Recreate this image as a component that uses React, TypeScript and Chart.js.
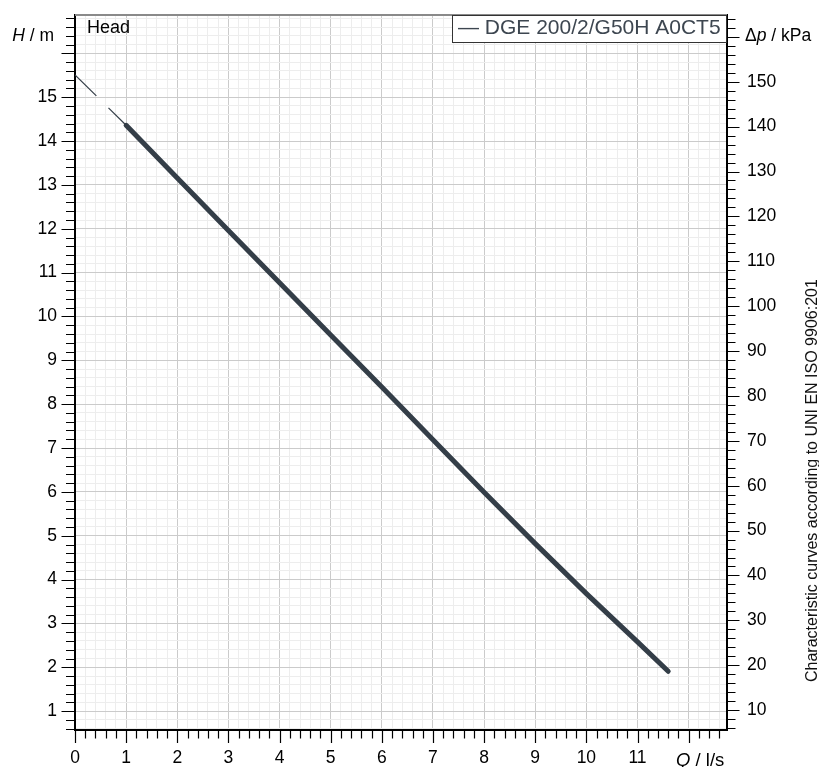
import React, { useEffect, useRef } from "react";
import { Chart, registerables } from "chart.js";

Chart.register(...registerables);

// ---- data ----
const Q_FLOW = [1, 2, 3, 4, 5, 6, 7, 8, 9, 10, 11, 11.6];
const H_HEAD = [14.36, 13.16, 11.96, 10.77, 9.58, 8.39, 7.19, 5.99, 4.82, 3.68, 2.58, 1.91];
const Q_EXT = [0, 1];
const H_EXT = [15.51, 14.36];
const X_TICK_LABELS = [0, 1, 2, 3, 4, 5, 6, 7, 8, 9, 10, 11];
const H_TICK_LABELS = [1, 2, 3, 4, 5, 6, 7, 8, 9, 10, 11, 12, 13, 14, 15];
const P_TICK_LABELS = [10, 20, 30, 40, 50, 60, 70, 80, 90, 100, 110, 120, 130, 140, 150];
const SERIES_LABEL = "DGE 200/2/G50H A0CT5";
const SERIES_TITLE = "Head";
const SIDE_NOTE = "Characteristic curves according to UNI EN ISO 9906:201";

const X_MIN = 0;
const X_MAX = 12.75;
const H_MIN = 0.57;
const H_MAX = 16.875;
const KPA_PER_M = 9.77;

const FONT = "'Liberation Sans', Arial, sans-serif";
const LINE_COLOR = "#343e48";

const near = (v: number, arr: number[]) => arr.some((a) => Math.abs(a - v) < 1e-6);
const isInt = (v: number) => Math.abs(v - Math.round(v)) < 1e-6;

const decorPlugin = {
  id: "decor",
  afterDraw(chart: any) {
    const { ctx, chartArea } = chart;
    const sx = chart.scales.x;
    const sy = chart.scales.y;
    const sp = chart.scales.y2;
    ctx.save();
    // tick marks
    ctx.strokeStyle = "#000";
    ctx.lineWidth = 1.2;
    ctx.beginPath();
    sx.ticks.forEach((t: any) => {
      const px = Math.round(sx.getPixelForValue(t.value)) + 0.5;
      const len = isInt(t.value) ? 13 : 8.5;
      ctx.moveTo(px, chartArea.bottom);
      ctx.lineTo(px, chartArea.bottom + len);
    });
    sy.ticks.forEach((t: any) => {
      const py = Math.round(sy.getPixelForValue(t.value)) + 0.5;
      const len = isInt(t.value) ? 13.5 : 9;
      ctx.moveTo(chartArea.left, py);
      ctx.lineTo(chartArea.left - len, py);
    });
    sp.ticks.forEach((t: any) => {
      const py = Math.round(sp.getPixelForValue(t.value)) + 0.5;
      const len = isInt(t.value / 10) ? 12.5 : 8.5;
      ctx.moveTo(chartArea.right, py);
      ctx.lineTo(chartArea.right + len, py);
    });
    ctx.stroke();

    // top border
    ctx.strokeStyle = "#8a8a8a";
    ctx.lineWidth = 2;
    ctx.beginPath();
    ctx.moveTo(chartArea.left, chartArea.top);
    ctx.lineTo(chartArea.right, chartArea.top);
    ctx.stroke();

    // legend box
    const bw = 275;
    const bh = 28;
    const bx = chartArea.right - bw;
    const by = chartArea.top;
    ctx.fillStyle = "#fff";
    ctx.fillRect(bx, by, bw, bh);
    ctx.strokeStyle = "#333";
    ctx.lineWidth = 1;
    ctx.strokeRect(bx + 0.5, by + 0.5, bw - 1, bh - 1);
    ctx.fillStyle = "#3d4650";
    ctx.font = `21px ${FONT}`;
    ctx.textAlign = "left";
    ctx.textBaseline = "alphabetic";
    ctx.fillText("\u2014 " + chart.data.datasets[1].label, bx + 6, by + 18.8);

    // "Head"
    ctx.fillStyle = "#000";
    ctx.font = `18px ${FONT}`;
    ctx.fillText(SERIES_TITLE, chartArea.left + 12, chartArea.top + 17.7);

    // axis titles
    const drawParts = (parts: [string, boolean][], x: number, y: number, align: "left" | "right", size: number) => {
      const widths = parts.map(([s, it]) => {
        ctx.font = `${it ? "italic " : ""}${size}px ${FONT}`;
        return ctx.measureText(s).width;
      });
      const total = widths.reduce((a, b) => a + b, 0);
      let cx = align === "left" ? x : x - total;
      ctx.textAlign = "left";
      parts.forEach(([s, it], i) => {
        ctx.font = `${it ? "italic " : ""}${size}px ${FONT}`;
        ctx.fillText(s, cx, y);
        cx += widths[i];
      });
    };
    ctx.fillStyle = "#000";
    drawParts([["H", true], [" / m", false]], 54, 41, "right", 17.5);
    drawParts([["\u0394", false], ["p", true], [" / kPa", false]], 745, 41, "left", 17.5);
    drawParts([["Q", true], [" / l/s", false]], 676, 765.5, "left", 18.5);

    // side note
    ctx.save();
    ctx.translate(817, 682);
    ctx.rotate(-Math.PI / 2);
    ctx.font = `16px ${FONT}`;
    ctx.fillStyle = "#111";
    ctx.textAlign = "left";
    ctx.fillText(SIDE_NOTE, 0, 0);
    ctx.restore();

    ctx.restore();
  },
};

const gridColor = (ctx: any) =>
  ctx.tick && isInt(ctx.tick.value) ? "#cbcbcb" : "#ededed";

const zeroPad = (s: any) => {
  s.paddingTop = 0;
  s.paddingBottom = 0;
  s.paddingLeft = 0;
  s.paddingRight = 0;
};

export default function App() {
  const ref = useRef<HTMLCanvasElement | null>(null);
  useEffect(() => {
    if (!ref.current) return;
    const tickFont = { family: FONT, size: 17.5 };
    const chart = new Chart(ref.current, {
      type: "scatter",
      data: {
        datasets: [
          {
            label: "ext",
            data: Q_EXT.map((q, i) => ({ x: q, y: H_EXT[i] })),
            showLine: true,
            borderColor: LINE_COLOR,
            borderWidth: 1.2,
            borderDash: [30, 17],
            pointRadius: 0,
            yAxisID: "y",
          },
          {
            label: SERIES_LABEL,
            data: Q_FLOW.map((q, i) => ({ x: q, y: H_HEAD[i] })),
            showLine: true,
            borderColor: LINE_COLOR,
            borderWidth: 5,
            borderCapStyle: "round",
            borderJoinStyle: "round",
            pointRadius: 0,
            yAxisID: "y",
          },
        ],
      },
      options: {
        responsive: false,
        animation: false,
        events: [],
        layout: { padding: { top: 15, left: 0, right: 0, bottom: 0 } },
        plugins: {
          legend: { display: false },
          tooltip: { enabled: false },
        },
        scales: {
          x: {
            type: "linear",
            position: "bottom",
            min: X_MIN,
            max: X_MAX,
            afterFit: (s: any) => {
              s.height = 37;
              zeroPad(s);
            },
            ticks: {
              stepSize: 0.2,
              autoSkip: false,
              includeBounds: false,
              maxRotation: 0,
              minRotation: 0,
              padding: 18,
              color: "#000",
              font: tickFont,
              callback: (v: any) => (isInt(v) && near(v, X_TICK_LABELS) ? String(Math.round(v)) : ""),
            },
            grid: { color: gridColor, lineWidth: 1, drawTicks: false },
            border: { display: true, color: "#000", width: 2 },
          },
          y: {
            type: "linear",
            position: "left",
            min: H_MIN,
            max: H_MAX,
            afterFit: (s: any) => {
              s.width = 75;
              zeroPad(s);
            },
            ticks: {
              stepSize: 0.2,
              autoSkip: false,
              includeBounds: false,
              padding: 18,
              color: "#000",
              font: tickFont,
              callback: (v: any) => (isInt(v) && near(v, H_TICK_LABELS) ? String(Math.round(v)) : ""),
            },
            grid: { color: gridColor, lineWidth: 1, drawTicks: false },
            border: { display: true, color: "#000", width: 2 },
          },
          y2: {
            type: "linear",
            position: "right",
            min: H_MIN * KPA_PER_M,
            max: H_MAX * KPA_PER_M,
            afterFit: (s: any) => {
              s.width = 92;
              zeroPad(s);
            },
            ticks: {
              stepSize: 2,
              autoSkip: false,
              includeBounds: false,
              padding: 20,
              color: "#000",
              font: tickFont,
              callback: (v: any) => (near(v, P_TICK_LABELS) ? String(Math.round(v)) : ""),
            },
            grid: { display: false, drawTicks: false },
            border: { display: true, color: "#000", width: 2 },
          },
        },
      } as any,
      plugins: [decorPlugin],
    });
    return () => chart.destroy();
  }, []);

  return (
    <div style={{ position: "absolute", left: 0, top: 0, width: 819, height: 767, background: "#fff" }}>
      <canvas ref={ref} width={819} height={767} style={{ width: 819, height: 767, display: "block" }} />
    </div>
  );
}
